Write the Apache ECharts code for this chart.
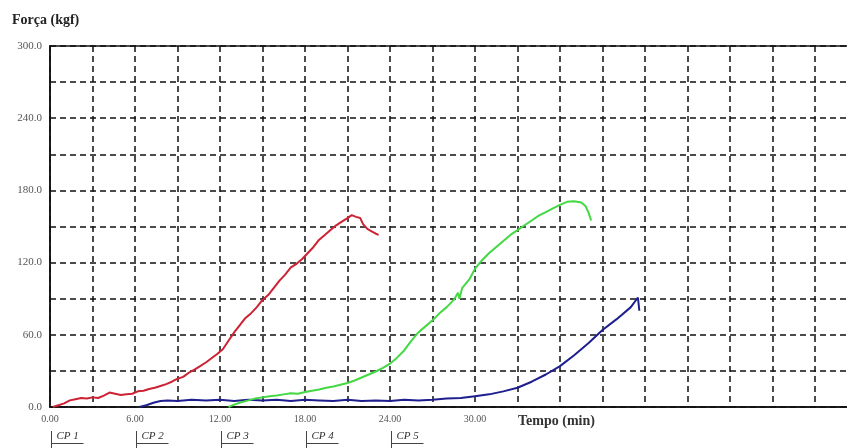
<!DOCTYPE html>
<html>
<head>
<meta charset="utf-8">
<script src="https://cdn.jsdelivr.net/npm/echarts@6/dist/echarts.min.js"></script>
<style>
  html, body { margin: 0; padding: 0; background: #fff; }
  #chart { width: 847px; height: 448px; }
</style>
</head>
<body>
<div id="chart"></div>
<script>
// ---- Data (time in minutes, force in kgf) ----
const cp1Time  = [0.2,0.6,1.0,1.4,1.8,2.2,2.6,3.0,3.4,3.8,4.2,4.6,5.0,5.4,5.8,6.2,6.6,7.0,7.4,7.8,8.2,8.6,9.0,9.4,9.8,10.2,10.6,11.0,11.4,11.8,12.2,12.6,13.0,13.4,13.8,14.2,14.6,15.0,15.4,15.8,16.2,16.6,17.0,17.4,17.8,18.2,18.6,19.0,19.4,19.8,20.2,20.6,21.0,21.3,21.6,21.9,22.1,22.4,22.7,23.0,23.2];
const cp1Force = [0,1.5,3,5.5,6.5,7.5,7,8,7.5,9.5,12,11,10,10.5,11,13,13.5,15,16,17.5,19,21,23.5,25,28.5,31,34,37,40.5,44,48,55,62,68,74,78,83,89,93,99,105,110,116,119,123,128,133,139,143,147,151,154,157,159.5,158,157,152,148,146,144,143];

const cp2Time  = [6.3,6.8,7.3,7.8,8.3,9,10,11,12,13,14,15,16,17,18,19,20,21,22,23,24,25,26,27,28,29,30,31,32,33,34,35,36,37,38,39,40,41,41.5,41.6];
const cp2Force = [0,1.5,3.5,5,5.5,5,6,5.5,6,5,6,5.5,6,5,6,5.5,5,6,5,5.5,5,6,5.5,6,7,7.5,9,10.5,13,16,21,27,34,43,53,64,73,83,91,80];

const cp3Time  = [12.6,13.0,13.5,14.0,14.5,15,15.5,16,16.5,17,17.5,18,18.5,19,19.5,20,20.5,21,21.5,22,22.5,23,23.5,24,24.5,25,25.5,26,26.5,27,27.5,28,28.5,28.8,28.9,29.1,29.6,30,30.5,31,31.5,32,32.5,33,33.5,34,34.5,35,35.5,36,36.5,37,37.5,37.8,38.0,38.2];
const cp3Force = [0,2,4,5.5,7,8,9,9.5,10.5,11.5,11,12.5,13.5,14.5,16,17,18.5,20,22,24.5,27,29.5,32.5,36,41,47,55,62,67,72,78,83,89,95,90,99,106,115,122,128,133,138,143,147,151,155,159,162,165,168,170.5,171,170,167,162,155];

const xTickLabelMax = 30;           // last labelled time tick
const specimenNames = ['CP 1','CP 2','CP 3','CP 4','CP 5'];
const specimenPos   = [0, 6, 12, 18, 24];

const zip = (a, b) => a.map((v, i) => [v, b[i]]);

const chart = echarts.init(document.getElementById('chart'), null, { renderer: 'canvas' });
const serif = '"Liberation Serif", "DejaVu Serif", serif';
const dashed = { type: [6, 4], color: '#111', width: 1.5 };

chart.setOption({
  animation: false,
  backgroundColor: '#fff',
  grid: {
    left: 50, top: 46, width: 850, height: 361,
    containLabel: false, outerBoundsMode: 'none',
    show: true, borderColor: '#111', borderWidth: 1.5, backgroundColor: 'transparent'
  },
  xAxis: {
    type: 'value', min: 0, max: 60, interval: 3,
    axisLine: { show: true, lineStyle: { color: '#111', width: 1.5 } },
    axisTick: { show: false },
    splitLine: { show: true, lineStyle: dashed },
    axisLabel: {
      margin: 7, color: '#555', fontFamily: serif, fontSize: 10,
      formatter: v => (v % 6 === 0 && v <= xTickLabelMax) ? v.toFixed(2) : ''
    }
  },
  yAxis: {
    type: 'value', min: 0, max: 300, interval: 30,
    axisLine: { show: true, lineStyle: { color: '#111', width: 1.5 } },
    axisTick: { show: false },
    splitLine: { show: true, lineStyle: dashed },
    axisLabel: {
      margin: 8, color: '#555', fontFamily: serif, fontSize: 11,
      formatter: v => (v % 60 === 0) ? v.toFixed(1) : ''
    }
  },
  series: [
    { name: 'CP 1', type: 'line', showSymbol: false, data: zip(cp1Time, cp1Force), lineStyle: { color: '#cc2233', width: 2 }, itemStyle: { color: '#cc2233' } },
    { name: 'CP 2', type: 'line', showSymbol: false, data: zip(cp2Time, cp2Force), lineStyle: { color: '#1e1e8e', width: 2 }, itemStyle: { color: '#1e1e8e' } },
    { name: 'CP 3', type: 'line', showSymbol: false, data: zip(cp3Time, cp3Force), lineStyle: { color: '#44d844', width: 2 }, itemStyle: { color: '#44d844' } }
  ]
});

// Titles and specimen labels placed from the axis scale
const graphics = [
  { type: 'text', left: 12, top: 13, style: { text: 'Força (kgf)', font: 'bold 14px ' + serif, fill: '#222' } },
  { type: 'text', left: 518, top: 414, style: { text: 'Tempo (min)', font: 'bold 14px ' + serif, fill: '#333' } }
];
specimenNames.forEach((name, i) => {
  const x = Math.round(chart.convertToPixel({ xAxisIndex: 0 }, specimenPos[i])) + 1.5;
  graphics.push({ type: 'line', shape: { x1: x, y1: 431, x2: x, y2: 448 }, style: { stroke: '#444', lineWidth: 1 } });
  graphics.push({ type: 'line', shape: { x1: x, y1: 443.5, x2: x + 32, y2: 443.5 }, style: { stroke: '#444', lineWidth: 1 } });
  graphics.push({ type: 'text', x: x + 5, y: 431, style: { text: name, font: 'italic 11px ' + serif, fill: '#333' } });
});
chart.setOption({ graphic: graphics });
</script>
</body>
</html>
